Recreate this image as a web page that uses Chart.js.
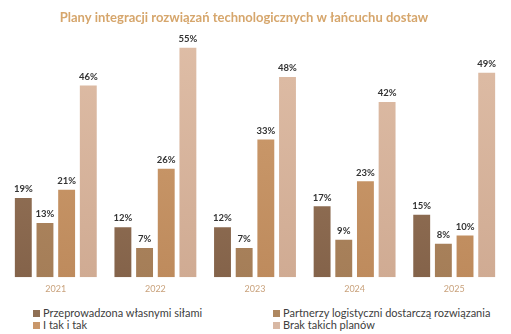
<!DOCTYPE html>
<html><head><meta charset="utf-8">
<script src="https://cdn.jsdelivr.net/npm/chart.js@4/dist/chart.umd.min.js"></script>
<style>
html,body{margin:0;padding:0;background:#fff;}
#wrap{position:relative;width:511px;height:334px;}
#c{position:absolute;left:0;top:0;}
#legend{position:absolute;left:0;top:305px;width:511px;font-family:Lato,'Open Sans',sans-serif;font-size:11px;color:#404040;}
.li{position:absolute;white-space:nowrap;line-height:12px;}
.sq{display:inline-block;width:7px;height:7px;margin-right:3px;vertical-align:0px;}
</style></head>
<body><div id="wrap"><canvas id="c" width="511" height="300"></canvas><div id="legend"></div></div>
<script>
const titleText = 'Plany integracji rozwiązań technologicznych w łańcuchu dostaw';
const categories = ['2021','2022','2023','2024','2025'];
const seriesNames = ['Przeprowadzona własnymi siłami','Partnerzy logistyczni dostarczą rozwiązania','I tak i tak','Brak takich planów'];
const ownForces = [19,12,12,17,15];
const partners = [13,7,7,9,8];
const both = [21,26,33,23,10];
const noPlans = [46,55,48,42,49];
const colorsTop = ['#a07e61','#b68d66','#d09f71','#dfbea7'];
const colorsBottom = ['#84634a','#a57e58','#be8b5d','#d0ab93'];
const legendColors = ['#8f6f54','#ae8760','#c9976a','#d8b8a4'];

const values = [ownForces, partners, both, noPlans];

function grad(i){
  return function(ctx){
    const ch = ctx.chart; const a = ch.chartArea;
    if(!a) return colorsTop[i];
    const g = ch.ctx.createLinearGradient(0,a.top,0,a.bottom);
    g.addColorStop(0,colorsTop[i]); g.addColorStop(1,colorsBottom[i]);
    return g;
  };
}

const labelPlugin = {
  id:'vlabels',
  afterDatasetsDraw(chart){
    const ctx = chart.ctx;
    ctx.save();
    ctx.font = 'bold 9.5px Lato, "Open Sans", sans-serif';
    ctx.fillStyle = '#333333';
    ctx.textAlign = 'center';
    ctx.textBaseline = 'bottom';
    chart.data.datasets.forEach((ds,di)=>{
      const meta = chart.getDatasetMeta(di);
      meta.data.forEach((bar,i)=>{
        ctx.fillText(ds.data[i]+'%', bar.x, bar.y-4);
      });
    });
    // title
    ctx.font = 'bold 13px Lato, "Open Sans", sans-serif';
    ctx.fillStyle = '#d6a66c';
    ctx.textBaseline = 'middle';
    ctx.fillText(titleText, 244, 18);
    ctx.restore();
  }
};

new Chart(document.getElementById('c'),{
  type:'bar',
  data:{
    labels:categories,
    datasets: seriesNames.map((n,i)=>({label:n,data:values[i],backgroundColor:grad(i),borderWidth:0,categoryPercentage:0.87,barPercentage:0.78}))
  },
  options:{
    responsive:false,animation:false,
    layout:{padding:{left:6,right:7,top:27,bottom:0}},
    plugins:{
      legend:{display:false},
      tooltip:{enabled:false},
      title:{display:false}
    },
    scales:{
      x:{grid:{display:false,drawTicks:false},border:{display:false},ticks:{color:'#c9a27c',font:{family:'Lato, "Open Sans", sans-serif',size:9},padding:6}},
      y:{display:false,min:0,max:60}
    }
  },
  plugins:[labelPlugin]
});

const leg = document.getElementById('legend');
const pos = [[33,2],[273,2],[33,14],[273,14]];
seriesNames.forEach((n,i)=>{
  const d = document.createElement('div'); d.className='li';
  d.style.left = pos[i][0]+'px'; d.style.top = pos[i][1]+'px';
  const s = document.createElement('span'); s.className='sq'; s.style.background = legendColors[i];
  d.appendChild(s); d.appendChild(document.createTextNode(n));
  leg.appendChild(d);
});
</script></body></html>
